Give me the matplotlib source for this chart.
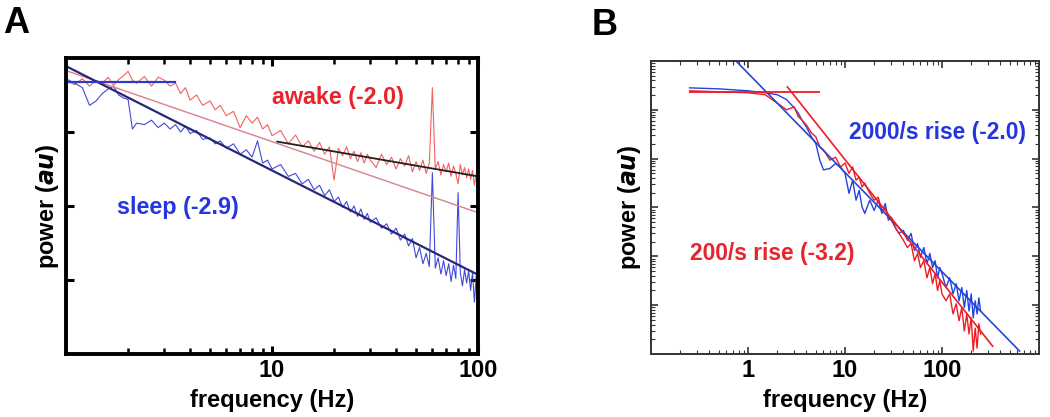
import numpy as np
import matplotlib.pyplot as plt
from matplotlib.ticker import LogLocator, NullFormatter, FixedLocator, FixedFormatter

plt.rcParams['font.family'] = ['Liberation Sans', 'DejaVu Sans']
plt.rcParams['font.weight'] = 'bold'

# ---------------- Panel A: awake vs sleep spectra (log10 power) ----------------
freq_a = [1.0, 1.1, 1.2, 1.3, 1.4, 1.5, 1.6, 1.7, 1.8, 1.9, 2.0, 2.1, 2.2,
          2.4, 2.6, 2.8, 3.0, 3.2, 3.4, 3.6, 3.8,
          4.0, 4.3, 4.6, 5.0, 5.3, 5.6, 6.0, 6.5, 7.0, 7.5, 8.0, 8.5, 9.0, 9.5,
          10, 11, 12, 13, 14, 15, 16, 17, 18, 19, 20, 21, 22, 23, 24, 25, 26,
          27, 28, 29, 30,
          32, 34, 36, 38, 40, 42, 44, 46, 48, 50, 52, 54, 56, 58, 60, 62, 64,
          66, 68, 70, 72, 74, 76, 78, 80, 82, 84, 86, 88, 90, 92, 94, 96, 98, 100]

awake_log = [3.70, 3.64, 3.72, 3.62, 3.70, 3.66, 3.74, 3.63, 3.71, 3.76, 3.82, 3.70, 3.66,
             3.75, 3.62, 3.74, 3.70, 3.62, 3.66, 3.52, 3.60,
             3.43, 3.50, 3.36, 3.42, 3.30, 3.36, 3.22, 3.28, 3.06, 3.22, 3.12, 3.20, 3.04, 3.10,
             2.95, 3.02, 2.84, 2.96, 2.80, 2.88, 2.74, 2.86, 2.70, 2.80, 2.35, 2.78, 2.68,
             2.80, 2.64, 2.74, 2.60, 2.72, 2.58, 2.70, 2.62,
             2.52, 2.70, 2.56, 2.66, 2.50, 2.64, 2.54, 2.68, 2.46, 2.60, 2.48, 2.62, 2.44,
             2.58, 3.60, 2.50, 2.60, 2.42, 2.56, 2.46, 2.58, 2.40, 2.54, 2.44, 2.30, 2.56,
             2.42, 2.52, 2.38, 2.50, 2.36, 2.48, 2.28, 2.44, 2.20]

sleep_log = [3.72, 3.66, 3.60, 3.36, 3.42, 3.52, 3.58, 3.62, 3.50, 3.46, 3.44, 3.04, 3.12,
             3.10, 3.16, 3.06, 3.12, 3.04, 3.10, 3.00, 3.08,
             2.98, 3.02, 2.90, 2.92, 2.84, 2.88, 2.78, 2.84, 2.70, 2.76, 2.66, 2.88, 2.58, 2.62,
             2.50, 2.56, 2.40, 2.44, 2.30, 2.36, 2.22, 2.28, 2.14, 2.22, 2.06, 2.12, 1.98,
             2.06, 1.92, 2.00, 1.86, 1.96, 1.82, 1.90, 1.78,
             1.84, 1.70, 1.76, 1.62, 1.70, 1.54, 1.62, 1.46, 1.56, 1.30, 1.44, 1.22, 1.36,
             1.18, 2.45, 1.16, 1.30, 1.08, 1.26, 1.06, 1.22, 0.98, 1.20, 1.02, 2.18, 1.10,
             0.92, 1.14, 0.96, 1.12, 0.86, 1.10, 0.70, 1.06, 0.60]

# fitted lines, endpoints (freq, log10 power)
sleep_flat_a = ([1.0, 3.37], [3.67, 3.67])
sleep_fit_a = ([1.0, 100], [3.89, 1.07])
awake_fit_a = ([1.0, 100], [3.83, 1.91])
awake_hi_fit_a = ([10.6, 100], [2.87, 2.40])

# ---------------- Panel B: 2000/s vs 200/s rise spectra ----------------
freq_b = [0.25, 0.5, 1.0, 1.5, 2.0, 2.5, 3.0, 3.3, 3.6, 4.0, 4.5, 5.0, 5.5, 6.0,
          7, 8, 9, 10, 11, 12, 13, 14, 15, 16, 18, 20, 22, 24, 26, 28, 30, 33,
          36, 40, 44, 48, 52, 56, 60, 65, 70, 75, 80, 85, 90, 95, 100, 110, 120,
          130, 140, 150, 160, 170, 180, 190, 200, 210, 220, 230, 240, 250]

fast_log = [5.45, 5.43, 5.39, 5.35, 5.31, 5.21, 5.04, 4.93, 4.79, 4.65, 4.45, 4.31, 3.97, 3.77,
            3.80, 3.90, 3.83, 3.70, 3.29, 3.56, 3.15, 3.35, 3.01, 2.88, 3.15, 2.94, 3.15,
            2.88, 3.08, 2.74, 2.80, 2.59, 2.47, 2.53, 2.33, 2.47, 2.12, 2.26, 1.98, 2.18,
            1.85, 2.06, 1.77, 1.91, 1.56, 1.77, 1.65, 1.36, 1.56, 1.23, 1.44, 1.09, 1.36,
            0.95, 1.30, 0.88, 1.23, 0.74, 1.09, 0.82, 1.15, 0.88]

slow_log = [5.39, 5.37, 5.35, 5.31, 5.14, 5.00, 5.06, 4.86, 4.79, 4.69, 4.53, 4.45, 4.24, 4.18,
            3.97, 4.03, 3.83, 3.91, 3.70, 3.83, 3.56, 3.62, 3.42, 3.50, 3.29, 3.15, 3.21,
            2.94, 3.00, 2.80, 2.74, 2.59, 2.47, 2.33, 2.18, 2.26, 1.91, 2.06, 1.77, 1.91,
            1.56, 1.77, 1.44, 1.65, 1.30, 1.50, 1.23, 1.09, 1.23, 0.82, 1.03, 0.68, 0.95,
            0.47, 0.82, 0.41, 0.74, 0.06, 0.53, 0.12, 0.62, 0.41]

fast_fit_b = ([0.753, 631], [6.0, 0.06])
slow_flat_b = ([0.25, 5.35], [5.37, 5.37])
slow_fit_b = ([2.55, 333], [5.47, 0.16])

red_a = '#f0524c'
blue_a = '#2a36d8'
red_b = '#ee1c24'
blue_b = '#1f44e6'
red_txt = '#e8232b'
blue_txt = '#2535e0'

fig = plt.figure(figsize=(10.5, 4.17), dpi=100)

# ---- A ----
ax1 = fig.add_axes([0.0629, 0.1511, 0.3924, 0.7098])
ax1.plot(freq_a, 10 ** np.array(awake_log), color=red_a, lw=0.8, alpha=0.9)
ax1.plot(freq_a, 10 ** np.array(sleep_log), color=blue_a, lw=0.8, alpha=0.9)
ax1.plot(awake_fit_a[0], 10 ** np.array(awake_fit_a[1]), color='#d8828a', lw=1.0)
ax1.plot(sleep_fit_a[0], 10 ** np.array(sleep_fit_a[1]), color='#28287a', lw=1.6)
ax1.plot(sleep_flat_a[0], 10 ** np.array(sleep_flat_a[1]), color='#2a3cc8', lw=1.6)
ax1.plot(awake_hi_fit_a[0], 10 ** np.array(awake_hi_fit_a[1]), color='#202020', lw=1.3)
ax1.set_xscale('log')
ax1.set_yscale('log')
ax1.set_xlim(1, 100)
ax1.set_ylim(1, 1e4)
ax1.xaxis.set_major_locator(FixedLocator([10, 100]))
ax1.xaxis.set_major_formatter(FixedFormatter(['10', '100']))
ax1.xaxis.set_minor_locator(LogLocator(base=10, subs=np.arange(2, 10), numticks=10))
ax1.xaxis.set_minor_formatter(NullFormatter())
ax1.yaxis.set_major_locator(FixedLocator([10, 100, 1000]))
ax1.yaxis.set_minor_locator(FixedLocator([]))
ax1.set_yticklabels([])
ax1.tick_params(which='both', direction='in', top=True, right=True, labelsize=17)
ax1.tick_params(which='major', length=6, width=2.2)
ax1.tick_params(which='minor', length=4, width=1.8)
for s in ax1.spines.values():
    s.set_linewidth(2.8)
ax1.set_xlabel('frequency (Hz)', fontsize=17, fontweight='bold', labelpad=5)
ax1.set_ylabel('power ($\\bf{\\it{au}}$)', fontsize=17, fontweight='bold', labelpad=0)
ax1.text(21, 10 ** 3.46, 'awake (-2.0)', color=red_txt, fontsize=16.8, fontweight='bold',
         ha='center', va='center')
ax1.text(3.48, 10 ** 1.98, 'sleep (-2.9)', color=blue_txt, fontsize=16.8, fontweight='bold',
         ha='center', va='center')
fig.text(0.003, 0.944, 'A', fontsize=26, fontweight='bold', va='center')

# ---- B ----
ax2 = fig.add_axes([0.62, 0.1511, 0.3695, 0.7026])
ax2.plot(freq_b, 10 ** np.array(fast_log), color=blue_b, lw=1.0)
ax2.plot(freq_b, 10 ** np.array(slow_log), color=red_b, lw=1.0)
ax2.plot(fast_fit_b[0], 10 ** np.array(fast_fit_b[1]), color='#2a46d0', lw=1.2)
ax2.plot(slow_flat_b[0], 10 ** np.array(slow_flat_b[1]), color=red_b, lw=1.3)
ax2.plot(slow_fit_b[0], 10 ** np.array(slow_fit_b[1]), color=red_b, lw=1.2)
ax2.set_xscale('log')
ax2.set_yscale('log')
ax2.set_xlim(0.1, 1000)
ax2.set_ylim(1, 1e6)
ax2.xaxis.set_major_locator(FixedLocator([1, 10, 100]))
ax2.xaxis.set_major_formatter(FixedFormatter(['1', '10', '100']))
ax2.xaxis.set_minor_locator(LogLocator(base=10, subs=np.arange(2, 10), numticks=10))
ax2.xaxis.set_minor_formatter(NullFormatter())
ax2.yaxis.set_major_locator(FixedLocator([10, 100, 1e3, 1e4, 1e5]))
ax2.yaxis.set_minor_locator(LogLocator(base=10, subs=np.arange(2, 10), numticks=10))
ax2.yaxis.set_minor_formatter(NullFormatter())
ax2.set_yticklabels([])
ax2.tick_params(which='both', direction='in', top=True, right=True, labelsize=17,
                color='#333333')
ax2.tick_params(which='major', length=5, width=1.2)
ax2.tick_params(which='minor', length=3, width=0.8)
for s in ax2.spines.values():
    s.set_linewidth(1.4)
    s.set_color('#333333')
ax2.set_xlabel('frequency (Hz)', fontsize=17, fontweight='bold', labelpad=5)
ax2.set_ylabel('power ($\\bf{\\it{au}}$)', fontsize=17, fontweight='bold', labelpad=2)
ax2.text(89, 10 ** 4.53, '2000/s rise (-2.0)', color=blue_txt, fontsize=16.4,
         fontweight='bold', ha='center', va='center')
ax2.text(1.76, 10 ** 2.06, '200/s rise (-3.2)', color=red_txt, fontsize=16.4,
         fontweight='bold', ha='center', va='center')
fig.text(0.563, 0.94, 'B', fontsize=26, fontweight='bold', va='center')

fig.savefig('out.png', dpi=100)
